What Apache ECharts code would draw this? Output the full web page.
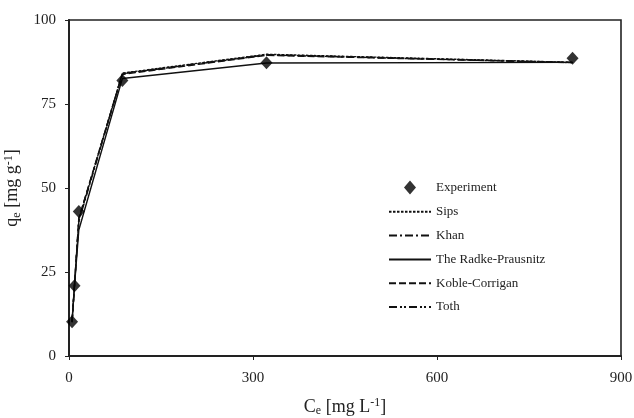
<!DOCTYPE html>
<html><head><meta charset="utf-8">
<script src="https://cdn.jsdelivr.net/npm/echarts@6/dist/echarts.min.js"></script>
<style>html,body{margin:0;padding:0;background:#fff}#c{width:634px;height:418px}</style>
</head><body><div id="c"></div>
<script>
const ce = [5, 9, 16, 87, 322, 821];
const experiment = [10.2, 20.9, 43.0, 82.0, 87.3, 88.6];
const sips = [10.2, 21.4, 40.5, 84.2, 89.8, 87.4];
const khan = [10.0, 21.0, 40.0, 84.0, 89.6, 87.3];
const radke = [10.5, 21.0, 37.5, 82.6, 87.2, 87.4];
const koble = [10.3, 21.3, 41.0, 83.8, 89.5, 87.3];
const toth = [10.1, 21.2, 40.8, 84.1, 89.7, 87.4];
const xTicks = [0, 300, 600, 900];
const yTicks = [0, 25, 50, 75, 100];

const pair = arr => ce.map((x, i) => [x, arr[i]]);
const font = '"Liberation Serif", "Times New Roman", serif';
function lineSeries(name, data, dash) {
  return {
    name, type: 'line', data: pair(data), symbol: 'none', smooth: false,
    lineStyle: { color: '#111', width: 1.4, type: dash },
    itemStyle: { color: '#111' }, z: 2
  };
}
const hidden = { color: 'transparent', borderWidth: 0, opacity: 0 };
const rich = {
  n: { fontFamily: font, fontSize: 18, color: '#222' },
  s: { fontFamily: font, fontSize: 12, color: '#222', verticalAlign: 'bottom', padding: [8, 0, 0, 0] },
  p: { fontFamily: font, fontSize: 12, color: '#222', verticalAlign: 'top', padding: [0, 0, 8, 0] }
};
const chart = echarts.init(document.getElementById('c'), null, { renderer: 'canvas' });
chart.setOption({
  animation: false,
  backgroundColor: '#fff',
  textStyle: { fontFamily: font, color: '#222' },
  grid: { left: 69, right: 13, top: 20, bottom: 62, containLabel: false, outerBoundsMode: 'none',
          show: true, borderColor: '#222', borderWidth: 1.6 },
  xAxis: {
    type: 'value', min: xTicks[0], max: xTicks[xTicks.length - 1], interval: 300,
    axisLine: { show: true, lineStyle: { color: '#222', width: 2 } },
    axisTick: { show: true, length: 4, lineStyle: { color: '#222' } },
    splitLine: { show: false },
    axisLabel: { fontFamily: font, fontSize: 15, color: '#222', margin: 15 },
    name: '{n|C}{s|e}{n| [mg L}{p|-1}{n|]}',
    nameLocation: 'middle', nameGap: 41,
    nameTextStyle: { rich }
  },
  yAxis: {
    type: 'value', min: yTicks[0], max: yTicks[yTicks.length - 1], interval: 25,
    axisLine: { show: true, lineStyle: { color: '#222', width: 2 } },
    axisTick: { show: true, length: 4, lineStyle: { color: '#222' } },
    splitLine: { show: false },
    axisLabel: { fontFamily: font, fontSize: 15, color: '#222', margin: 13 },
    name: '{n|q}{s|e}{n| [mg g}{p|-1}{n|]}',
    nameLocation: 'middle', nameGap: 31, nameRotate: 90,
    nameTextStyle: { rich }
  },
  legend: {
    orient: 'vertical', left: 388, top: 180.5, padding: 0,
    itemWidth: 42, itemHeight: 14, itemGap: 10.8,
    textStyle: { fontFamily: font, fontSize: 13, color: '#222' },
    data: [
      { name: 'Experiment', icon: 'path://M0,7L0.01,7ZM15,7L21,0L27,7L21,14ZM42,7L42.01,7Z', itemStyle: { color: '#000' } },
      { name: 'Sips', itemStyle: hidden },
      { name: 'Khan', itemStyle: hidden },
      { name: 'The Radke-Prausnitz', itemStyle: hidden },
      { name: 'Koble-Corrigan', itemStyle: hidden },
      { name: 'Toth', itemStyle: hidden }
    ]
  },
  series: [
    lineSeries('Sips', sips, [2.5, 1.5]),
    lineSeries('Khan', khan, [8, 3, 2, 3]),
    lineSeries('The Radke-Prausnitz', radke, 'solid'),
    lineSeries('Koble-Corrigan', koble, [7, 3]),
    lineSeries('Toth', toth, [8, 3, 2, 2, 2, 3]),
    {
      name: 'Experiment', type: 'scatter', data: pair(experiment),
      symbol: 'diamond', symbolSize: [12, 13], itemStyle: { color: '#000' }, z: 5
    }
  ]
});
</script></body></html>
